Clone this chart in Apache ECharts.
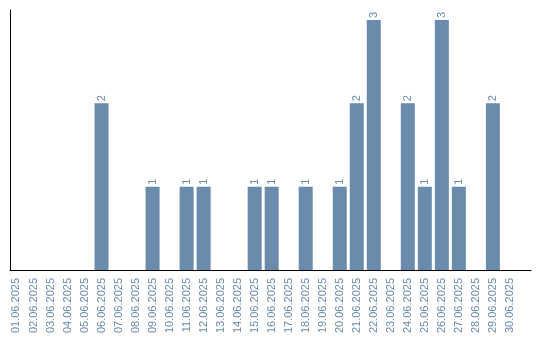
<!DOCTYPE html>
<html><head><meta charset="utf-8">
<script src="https://cdn.jsdelivr.net/npm/echarts@6/dist/echarts.min.js"></script>
<style>html,body{margin:0;padding:0;background:#fff}#c{width:540px;height:340px}</style>
</head><body><div id="c"></div>
<script>
var dateLabels = ["01.06.2025","02.06.2025","03.06.2025","04.06.2025","05.06.2025","06.06.2025","07.06.2025","08.06.2025","09.06.2025","10.06.2025","11.06.2025","12.06.2025","13.06.2025","14.06.2025","15.06.2025","16.06.2025","17.06.2025","18.06.2025","19.06.2025","20.06.2025","21.06.2025","22.06.2025","23.06.2025","24.06.2025","25.06.2025","26.06.2025","27.06.2025","28.06.2025","29.06.2025","30.06.2025"];
var counts = [0,0,0,0,0,2,0,0,1,0,1,1,0,0,1,1,0,1,0,1,2,3,0,2,1,3,1,0,2,0];
var dayIndex = dateLabels.map(function(_, i){ return i + 1; });

var color = '#6a8bab';
var chart = echarts.init(document.getElementById('c'), null, {renderer:'canvas'});
chart.setOption({
  animation:false,
  tooltip:{show:false},
  grid:{left:10, right:9, top:10, bottom:70, containLabel:false},
  xAxis:{
    type:'value', min:0.62, max:31.24,
    axisLine:{show:true, lineStyle:{color:'#000', width:1}},
    axisTick:{show:false},
    splitLine:{show:false},
    axisLabel:{
      customValues: dayIndex,
      rotate:90, margin:8, color:color,
      fontFamily:'Liberation Sans', fontSize:11,
      formatter:function(v){ return dateLabels[Math.round(v)-1] || ''; }
    }
  },
  yAxis:{
    type:'value', min:0, max:3.12,
    axisLine:{show:true, lineStyle:{color:'#000', width:1}},
    axisTick:{show:false}, axisLabel:{show:false}, splitLine:{show:false}
  },
  series:[{
    type:'bar', barWidth:14, silent:true,
    emphasis:{disabled:true},
    itemStyle:{color:color},
    data: dayIndex.map(function(d, i){ return [d, counts[i]]; }),
    label:{
      show:true, position:'top', rotate:90, align:'left', verticalAlign:'middle',
      distance:2, color:color, fontFamily:'Liberation Sans', fontSize:11,
      formatter:function(p){ return p.value[1] ? String(p.value[1]) : ''; }
    }
  }]
});
</script></body></html>
